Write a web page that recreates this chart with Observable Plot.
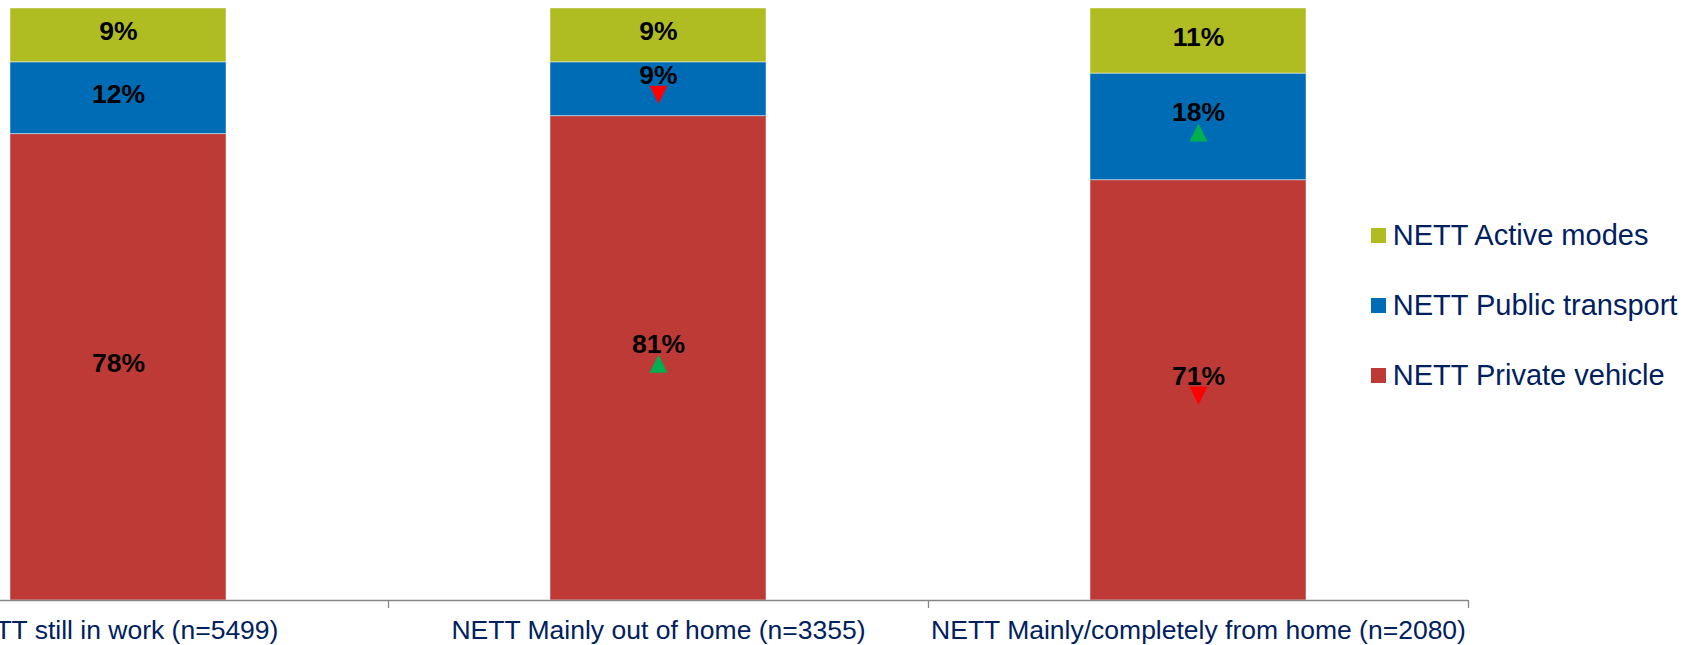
<!DOCTYPE html>
<html><head><meta charset="utf-8">
<script src="https://cdn.jsdelivr.net/npm/d3@7"></script>
<script src="https://cdn.jsdelivr.net/npm/@observablehq/plot@0.6"></script>
<style>
body{margin:0;background:#fff;}
#wrap{position:relative;width:1685px;height:645px;overflow:hidden;font-family:Arial,"Liberation Sans",sans-serif;}
#legend{position:absolute;left:1371px;top:200.6px;}
.row{display:flex;align-items:center;height:70px;}
.sw{width:15px;height:15px;margin-right:6.7px;flex:none;}
.lab{font-size:29px;color:#002060;white-space:nowrap;}
</style></head><body><div id="wrap"></div>
<script>
const categories = ["NETT still in work (n=5499)", "NETT Mainly out of home (n=3355)", "NETT Mainly/completely from home (n=2080)"];
const seriesNames = ["NETT Private vehicle", "NETT Public transport", "NETT Active modes"];
const privateVehicle = [78, 81, 71];
const publicTransport = [12, 9, 18];
const activeModes = [9, 9, 11];
const privateChange = [null, "up", "down"];
const publicChange = [null, "down", "up"];
const activeChange = [null, null, null];
const seriesColors = ["#BE3A36", "#006CB5", "#B0BD22"];

const seriesValues = [privateVehicle, publicTransport, activeModes];
const seriesChanges = [privateChange, publicChange, activeChange];
const rows = [];
seriesNames.forEach((s, si) => categories.forEach((c, ci) => rows.push({category: c, series: s, value: seriesValues[si][ci], change: seriesChanges[si][ci]})));

const tri = (dir) => ({draw(ctx, size) { const s = Math.sqrt(size); const h = s / 2 * dir; ctx.moveTo(0, -h); ctx.lineTo(s / 2, h); ctx.lineTo(-s / 2, h); ctx.closePath(); }});
const upTri = tri(1), downTri = tri(-1);
const stk = (o) => Plot.stackY({offset: "normalize", x: "category", y: "value", z: "series", ...o});

const chart = Plot.plot({
  width: 1685, height: 645,
  marginTop: 8, marginBottom: 45, marginLeft: 0, marginRight: 217,
  style: {fontFamily: "Arial, 'Liberation Sans', sans-serif", background: "white"},
  x: {domain: categories, range: [-152, 1468], paddingInner: 0.6, paddingOuter: 0.3, label: null},
  y: {axis: null},
  color: {domain: seriesNames, range: seriesColors},
  r: {type: "identity"},
  marks: [
    Plot.barY(rows, stk({fill: "series", stroke: "white", strokeOpacity: 0.45, strokeWidth: 1})),
    Plot.ruleY([0], {stroke: "#868686", strokeWidth: 1.3}),
    Plot.axisX({tickSize: 8, dx: 270, tickFormat: () => "", stroke: "#868686", strokeWidth: 1.3}),
    Plot.axisX({tickSize: 0, tickPadding: 20, fontSize: 26.5, fill: "#002060", color: "#002060"}),
    Plot.text(rows, stk({text: d => d.change ? "" : d.value + "%", fontSize: 26.5, fontWeight: "bold", fill: "black", dy: -4})),
    Plot.text(rows, stk({text: d => d.change ? d.value + "%" : "", fontSize: 26.5, fontWeight: "bold", fill: "black", dy: -14})),
    Plot.dot(rows, stk({r: d => d.change === "up" ? 10.16 : 0, symbol: upTri, fill: "#00B050", dy: 5.5})),
    Plot.dot(rows, stk({r: d => d.change === "down" ? 10.16 : 0, symbol: downTri, fill: "#FF0000", dy: 5.5}))
  ]
});
const wrap = document.getElementById("wrap");
wrap.appendChild(chart);

const legend = document.createElement("div");
legend.id = "legend";
seriesNames.slice().reverse().forEach(name => {
  const row = document.createElement("div"); row.className = "row";
  const sw = document.createElement("div"); sw.className = "sw"; sw.style.background = seriesColors[seriesNames.indexOf(name)];
  const lab = document.createElement("div"); lab.className = "lab"; lab.textContent = name;
  row.appendChild(sw); row.appendChild(lab); legend.appendChild(row);
});
wrap.appendChild(legend);
</script></body></html>
